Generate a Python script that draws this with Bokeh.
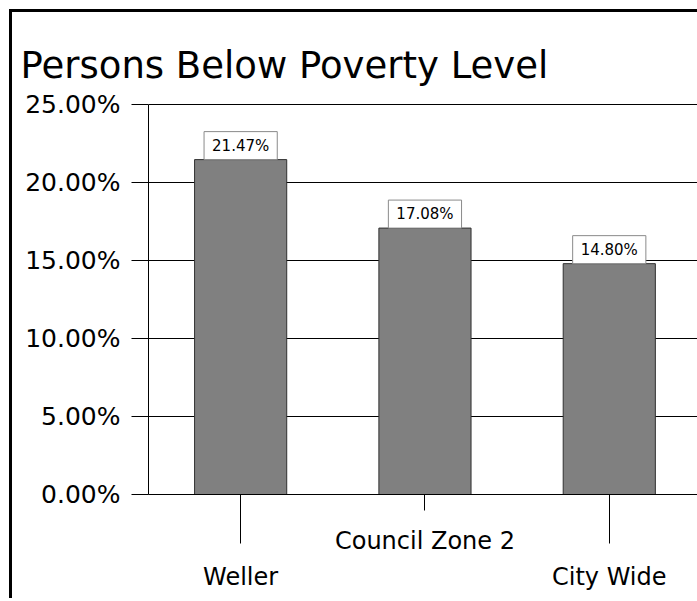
from bokeh.plotting import figure
from bokeh.models import (FixedTicker, Range1d, ColumnDataSource, LinearAxis, Grid)
from bokeh.core.properties import value
from bokeh.embed import file_html
from bokeh.resources import INLINE

# ---- data ----
categories = ["Weller", "Council Zone 2", "City Wide"]
values = [21.47, 17.08, 14.80]
value_labels = ["21.47%", "17.08%", "14.80%"]
y_ticks = [0, 5, 10, 15, 20, 25]
y_tick_labels = ["0.00%", "5.00%", "10.00%", "15.00%", "20.00%", "25.00%"]
title_text = "Persons Below Poverty Level"

FONT = "DejaVu Sans"

xpos = [i + 0.5 for i in range(len(categories))]
src = ColumnDataSource(dict(x=xpos, top=values, label=value_labels))

p = figure(width=688, height=589, output_backend="svg", toolbar_location=None,
           x_range=Range1d(0, 2.995), y_range=Range1d(0, 25.26),
           min_border_left=136, min_border_right=0, min_border_top=88,
           min_border_bottom=107, x_axis_type=None, y_axis_type=None)
p.outline_line_color = None
p.background_fill_color = "white"
p.border_fill_color = "white"
p.styles = {"margin-left": "9px", "margin-top": "9px",
            "border-left": "3px solid black", "border-top": "3px solid black"}

# title
p.title.text = title_text
p.title.text_font = FONT
p.title.text_font_size = "37px"
p.title.text_font_style = "normal"
p.title.text_color = "black"
p.title.align = "left"
p.title.offset = -128
p.title.standoff = 27

# y axis
yticker = FixedTicker(ticks=y_ticks, minor_ticks=[])
yaxis = LinearAxis(ticker=yticker,
                   major_label_overrides={t: l for t, l in zip(y_ticks, y_tick_labels)},
                   bounds=(0, 25), major_tick_out=17, major_tick_in=0,
                   minor_tick_out=0, minor_tick_in=0, major_label_standoff=11,
                   axis_line_color="black", major_tick_line_color="black",
                   major_label_text_font=FONT, major_label_text_font_size="25px",
                   major_label_text_color="black")
p.add_layout(yaxis, "left")
p.add_layout(Grid(dimension=1, ticker=yticker, grid_line_color="black", grid_line_width=1))

# x axis: staggered labels (middle one on the first line, outer ones on the second)
x_tick_labels = {xpos[0]: "\n" + categories[0],
                 xpos[1]: categories[1],
                 xpos[2]: "\n" + categories[2]}
xticker = FixedTicker(ticks=xpos, minor_ticks=[xpos[0], xpos[2]])
xaxis = LinearAxis(ticker=xticker, major_label_overrides=x_tick_labels,
                   major_tick_out=16, major_tick_in=0, minor_tick_out=49, minor_tick_in=0,
                   major_label_standoff=-17, axis_line_color="black",
                   major_tick_line_color="black", minor_tick_line_color="black",
                   major_label_text_font=FONT, major_label_text_font_size="24px",
                   major_label_text_line_height=1.3,
                   major_label_text_color="black")
p.add_layout(xaxis, "below")

# bars
p.vbar(x="x", top="top", width=0.5, bottom=0, source=src,
       fill_color="#808080", line_color="#303030", line_width=1)

# value labels
p.text(x="x", y="top", text="label", source=src, anchor="bottom_center",
       text_align="center", text_baseline="middle",
       text_font=value(FONT), text_font_size="15px", text_color="black",
       background_fill_color="white", border_line_color="#8a8a8a", border_line_width=1,
       padding=dict(left=8, right=8, top=5, bottom=5))

open("out.html", "w").write(file_html(p, INLINE))
